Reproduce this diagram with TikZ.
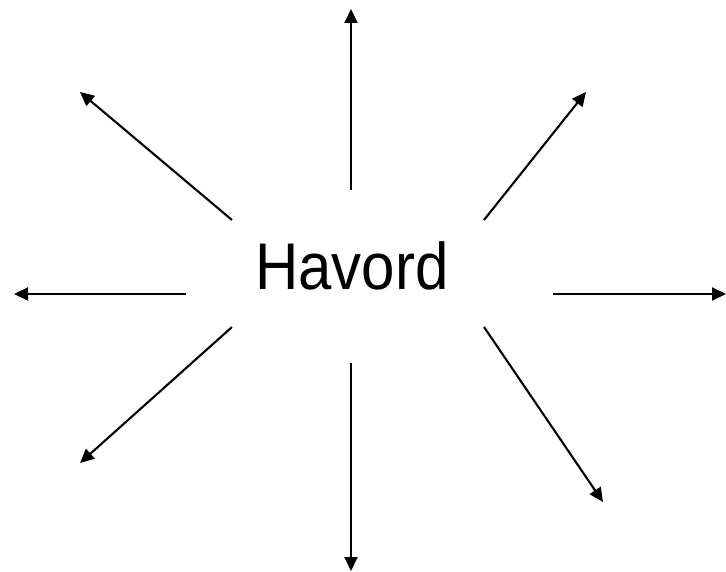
\documentclass[tikz,border=0pt]{standalone}
\usepackage{fontspec}
\setmainfont{Liberation Sans}
\usepackage{graphicx}
\usepackage{tikz}
\usetikzlibrary{arrows.meta}

\begin{document}
\begin{tikzpicture}[x=1pt,y=-1pt,>={Triangle[length=14pt,width=13pt]},
  ray/.style={->,line width=2.1pt}]
\useasboundingbox (0,0) rectangle (726,572);
\node[font=\fontsize{60}{61}\selectfont,inner sep=0pt] (hub) at (352,266) {\scalebox{1}[1.1]{Havord}};
% start points round the word
\coordinate (sN) at (351,190);
\coordinate (sNE) at (484,220);
\coordinate (sE) at (553,294);
\coordinate (sSE) at (484,327);
\coordinate (sS) at (351,363);
\coordinate (sSW) at (232,327);
\coordinate (sW) at (186,294);
\coordinate (sNW) at (232,220);
% tips
\coordinate (tN) at (351,9);
\coordinate (tNE) at (586,92);
\coordinate (tE) at (726,294);
\coordinate (tSE) at (603,502);
\coordinate (tS) at (351,571);
\coordinate (tSW) at (80,463);
\coordinate (tW) at (14,294);
\coordinate (tNW) at (80,92);
\draw[ray] (sN) -- (tN);
\draw[ray] (sNE) -- (tNE);
\draw[ray] (sE) -- (tE);
\draw[ray] (sSE) -- (tSE);
\draw[ray] (sS) -- (tS);
\draw[ray] (sSW) -- (tSW);
\draw[ray] (sW) -- (tW);
\draw[ray] (sNW) -- (tNW);
\end{tikzpicture}
\end{document}
